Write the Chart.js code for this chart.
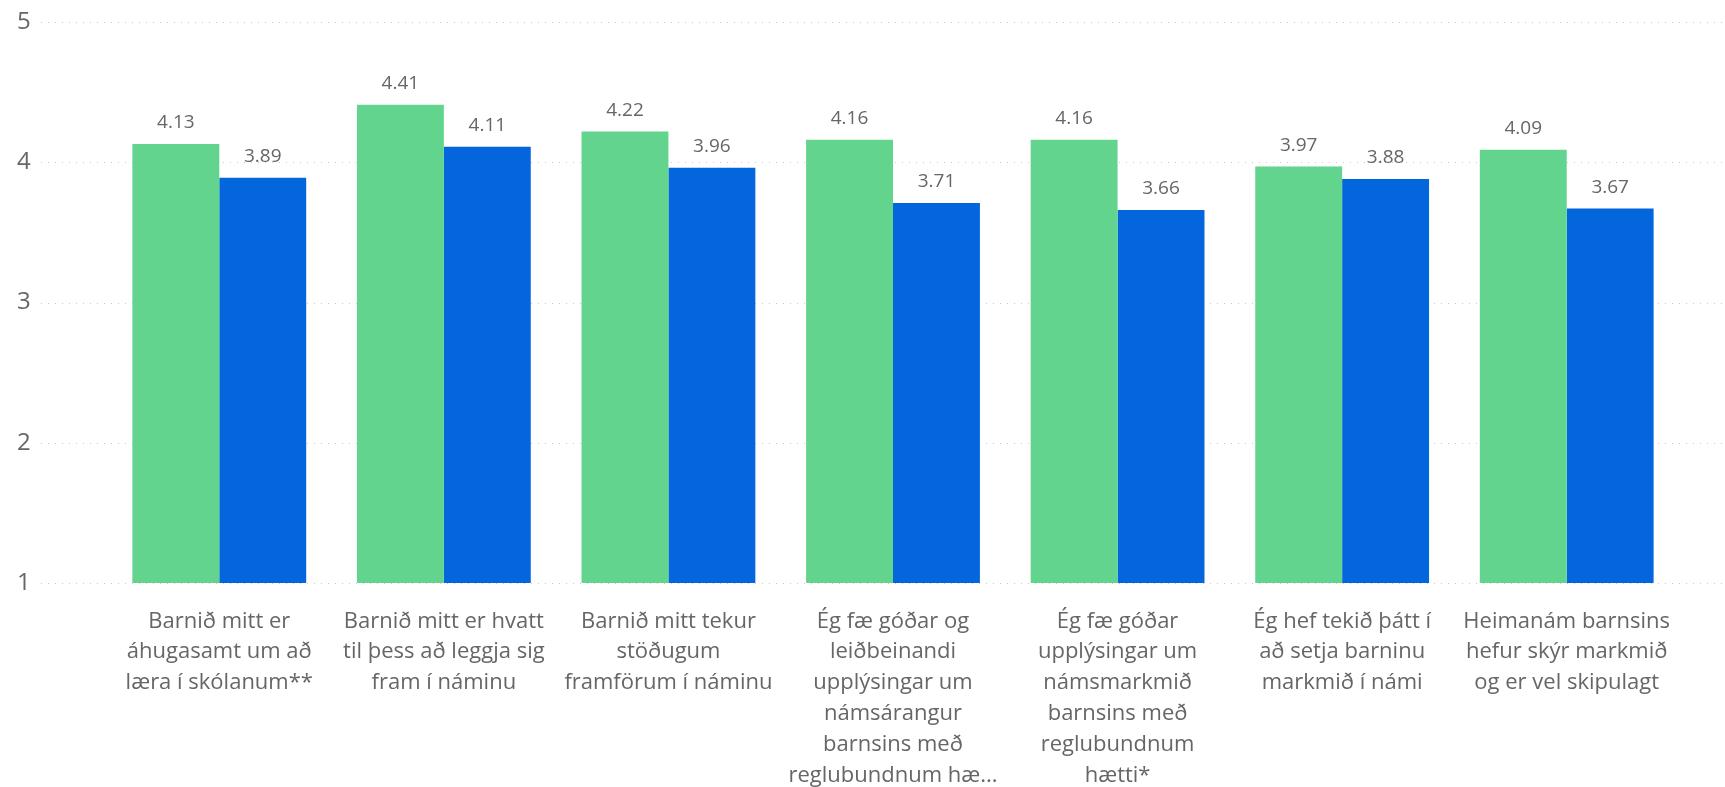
<!DOCTYPE html>
<html>
<head>
<meta charset="utf-8">
<script src="https://cdn.jsdelivr.net/npm/chart.js@4.4.1/dist/chart.umd.min.js"></script>
<style>
  html, body { margin: 0; padding: 0; background: #fff; }
  #chart { display: block; }
</style>
</head>
<body>
<canvas id="chart" width="1725" height="787"></canvas>
<script>
const categories = [
  ['Barnið mitt er', 'áhugasamt um að', 'læra í skólanum**'],
  ['Barnið mitt er hvatt', 'til þess að leggja sig', 'fram í náminu'],
  ['Barnið mitt tekur', 'stöðugum', 'framförum í náminu'],
  ['Ég fæ góðar og', 'leiðbeinandi', 'upplýsingar um', 'námsárangur', 'barnsins með', 'reglubundnum hæ...'],
  ['Ég fæ góðar', 'upplýsingar um', 'námsmarkmið', 'barnsins með', 'reglubundnum', 'hætti*'],
  ['Ég hef tekið þátt í', 'að setja barninu', 'markmið í námi'],
  ['Heimanám barnsins', 'hefur skýr markmið', 'og er vel skipulagt'],
];
const greenValues = [4.13, 4.41, 4.22, 4.16, 4.16, 3.97, 4.09];
const blueValues = [3.89, 4.11, 3.96, 3.71, 3.66, 3.88, 3.67];
const yTicks = [1, 2, 3, 4, 5];

const textColor = '#666666';
const fontFamily = "'Open Sans', 'Noto Sans', sans-serif";

// dotted horizontal lines, wider than the plot area like the original
const dottedGrid = {
  id: 'dottedGrid',
  beforeDatasetsDraw(chart) {
    const ctx = chart.ctx;
    const y = chart.scales.y;
    ctx.save();
    ctx.strokeStyle = '#c8c8c8';
    ctx.lineWidth = 1;
    ctx.setLineDash([1, 6]);
    yTicks.forEach((t) => {
      const py = Math.round(y.getPixelForValue(t)) + 0.5;
      ctx.beginPath();
      ctx.moveTo(41, py);
      ctx.lineTo(chart.width, py);
      ctx.stroke();
    });
    ctx.restore();
  },
};

const valueLabels = {
  id: 'valueLabels',
  afterDatasetsDraw(chart) {
    const ctx = chart.ctx;
    ctx.save();
    ctx.fillStyle = textColor;
    ctx.font = '19px ' + fontFamily;
    ctx.textAlign = 'center';
    ctx.textBaseline = 'middle';
    chart.data.datasets.forEach((ds, i) => {
      chart.getDatasetMeta(i).data.forEach((bar, j) => {
        ctx.fillText(ds.data[j].toFixed(2), bar.x, bar.y - 21);
      });
    });
    ctx.restore();
  },
};

new Chart(document.getElementById('chart'), {
  type: 'bar',
  data: {
    labels: categories,
    datasets: [
      {
        label: 'A',
        data: greenValues,
        backgroundColor: '#63d48d',
        borderWidth: 0,
        categoryPercentage: 0.774,
        barPercentage: 1,
      },
      {
        label: 'B',
        data: blueValues,
        backgroundColor: '#0366dd',
        borderWidth: 0,
        categoryPercentage: 0.774,
        barPercentage: 1,
      },
    ],
  },
  options: {
    responsive: false,
    animation: false,
    layout: { padding: { top: 22, right: 46, left: 17, bottom: 0 } },
    plugins: {
      legend: { display: false },
      tooltip: { enabled: false },
    },
    scales: {
      y: {
        min: 1,
        max: 5,
        afterFit: (scale) => { scale.width = 90; },
        afterBuildTicks: (scale) => { scale.ticks = yTicks.map((v) => ({ value: v })); },
        grid: { display: false },
        border: { display: false },
        ticks: {
          padding: 0,
          crossAlign: 'far',
          color: textColor,
          font: { family: fontFamily, size: 24 },
        },
      },
      x: {
        afterFit: (scale) => { scale.height = 204; },
        grid: { display: false },
        border: { display: false },
        ticks: {
          autoSkip: false,
          maxRotation: 0,
          minRotation: 0,
          padding: 15,
          color: textColor,
          font: { family: fontFamily, size: 22, lineHeight: 1.4 },
        },
      },
    },
  },
  plugins: [dottedGrid, valueLabels],
});
</script>
</body>
</html>
